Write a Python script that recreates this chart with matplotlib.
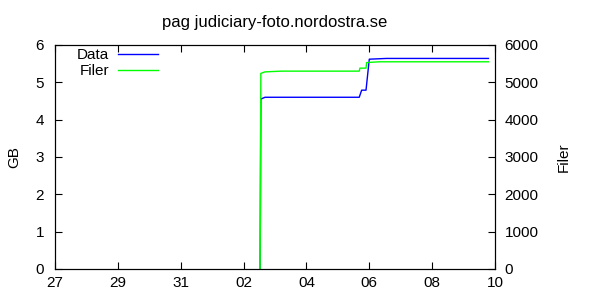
import matplotlib
matplotlib.use("Agg")
from matplotlib import pyplot as plt
import matplotlib.dates as mdates
import pandas as pd

plt.rcParams['font.family'] = ['Liberation Sans', 'DejaVu Sans']

# data
data_times = ["2008-11-02 12:40", "2008-11-02 13:10", "2008-11-02 16:20",
              "2008-11-05 16:20", "2008-11-05 18:10", "2008-11-05 21:30",
              "2008-11-06 00:00", "2008-11-06 13:10", "2008-11-09 19:00"]
data_gb = [0, 4.55, 4.60, 4.60, 4.79, 4.79, 5.62, 5.64, 5.64]

filer_times = ["2008-11-02 12:40", "2008-11-02 13:10", "2008-11-02 16:20",
               "2008-11-03 05:00", "2008-11-05 16:20", "2008-11-05 16:50",
               "2008-11-05 21:30", "2008-11-05 22:00", "2008-11-06 07:40",
               "2008-11-09 19:00"]
filer_count = [0, 5240, 5280, 5300, 5300, 5380, 5380, 5530, 5550, 5550]

x_start = "2008-10-27"
x_end = "2008-11-10"
title = "pag judiciary-foto.nordostra.se"

fig = plt.figure(figsize=(6, 3), dpi=100)
ax = fig.add_axes([55/600, 31/300, 440/600, 224/300])
ax2 = ax.twinx()

l1, = ax.plot(pd.to_datetime(data_times), data_gb, color='#0000ff', lw=1, label='Data')
l2, = ax2.plot(pd.to_datetime(filer_times), filer_count, color='#00ff00', lw=1, label='Filer')

ax.set_xlim(pd.Timestamp(x_start), pd.Timestamp(x_end))
ax.set_ylim(0, 6)
ax2.set_ylim(0, 6000)
ax.xaxis.set_major_locator(mdates.DayLocator(interval=2))
ax.xaxis.set_major_formatter(mdates.DateFormatter('%d'))
ax.set_yticks(range(0, 7))
ax2.set_yticks(range(0, 7000, 1000))

ax.tick_params(axis='x', direction='in', length=5, width=0.8, top=True, labelsize=11, pad=5)
ax.tick_params(axis='y', direction='in', length=5, width=0.8, labelsize=11, pad=8)
ax2.tick_params(axis='y', direction='in', length=5, width=0.8, labelsize=11, pad=7)

ax.set_ylabel('GB', fontsize=11, labelpad=10)
ax2.set_ylabel('Filer', fontsize=11, labelpad=13)
ax.set_title(title, fontsize=12, pad=13)

ax.legend(handles=[l1, l2], loc='upper left', bbox_to_anchor=(0.025, 1.035),
          frameon=False, markerfirst=False, handlelength=2.6, fontsize=11,
          labelspacing=0.15, handletextpad=0.6, borderaxespad=0.3)

fig.savefig('out.png', dpi=100)
